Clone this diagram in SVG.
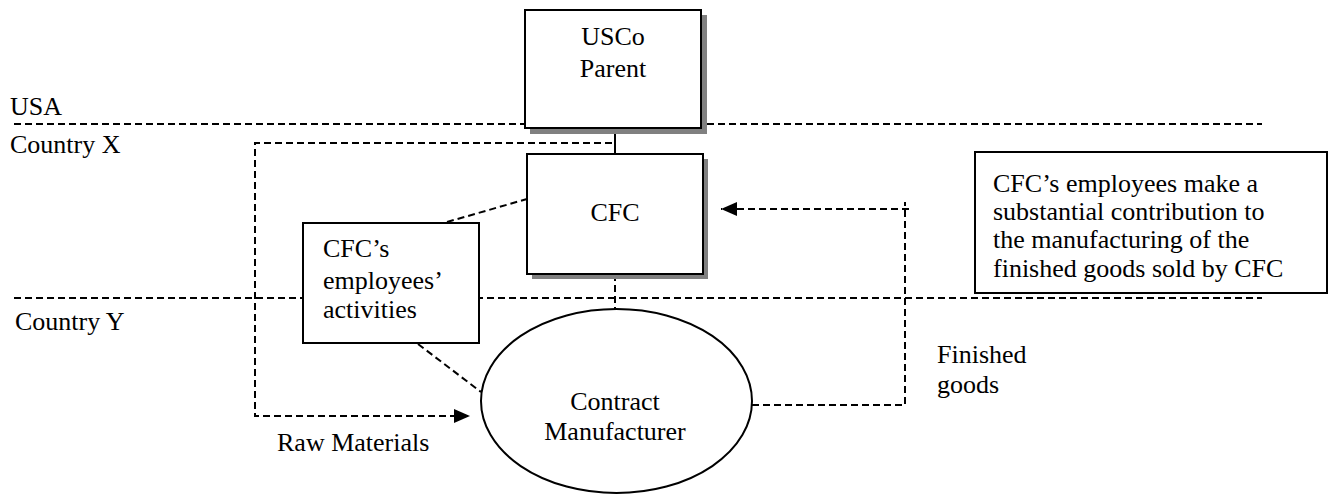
<svg xmlns="http://www.w3.org/2000/svg" width="1329" height="502" viewBox="0 0 1329 502" font-family="'Liberation Serif', 'Times New Roman', serif" font-size="26">
<style>
text{font-family:"Liberation Serif","Times New Roman",serif;font-size:26px;fill:#000}
.box{fill:#fff;stroke:#000;stroke-width:2}
.shadow{fill:#808080}
.dash{fill:none;stroke:#000;stroke-width:2;stroke-dasharray:7,4}
.solid{fill:none;stroke:#000;stroke-width:2}
</style>
<defs>
<marker id="arr" viewBox="0 0 16 14" refX="16" refY="7" markerWidth="16" markerHeight="14" markerUnits="userSpaceOnUse" orient="auto">
<path d="M0,0 L16,7 L0,14 z" fill="#000"/>
</marker>
</defs>
<rect width="1329" height="502" fill="#fff"/>
<g id="regions">
<line class="dash" x1="14" y1="124" x2="1262" y2="124"/>
<line class="dash" x1="14" y1="298" x2="1262" y2="298"/>
<text x="10" y="115">USA</text>
<text x="10" y="153">Country X</text>
<text x="15" y="330">Country Y</text>
</g>
<g id="connectors">
<line class="solid" x1="615" y1="128" x2="615" y2="154"/>
<path class="dash" d="M612,143 H255 V416 H470" marker-end="url(#arr)"/>
<line class="dash" x1="447" y1="222" x2="527" y2="199"/>
<line class="dash" x1="418" y1="344" x2="481" y2="392"/>
<line class="dash" x1="615" y1="274" x2="615" y2="309"/>
<path class="dash" d="M752,405 H905 V202"/>
<line class="dash" x1="909" y1="209" x2="721" y2="209" marker-end="url(#arr)"/>
<text x="277" y="451">Raw Materials</text>
<text x="937" y="363">Finished</text>
<text x="937" y="393">goods</text>
</g>
<g id="usco">
<rect class="shadow" x="530" y="15" width="177" height="119"/>
<rect class="box" x="525" y="10" width="176" height="118"/>
<text x="613" y="45" text-anchor="middle">USCo</text>
<text x="613" y="77" text-anchor="middle">Parent</text>
</g>
<g id="cfc">
<rect class="shadow" x="532" y="159" width="176" height="120"/>
<rect class="box" x="527" y="154" width="176" height="120"/>
<text x="615" y="221" text-anchor="middle">CFC</text>
</g>
<g id="activities">
<rect class="box" x="303" y="223" width="176" height="120"/>
<text x="323" y="257">CFC’s</text>
<text x="323" y="289">employees’</text>
<text x="323" y="318">activities</text>
</g>
<g id="manufacturer">
<ellipse class="box" cx="616.5" cy="401" rx="135.5" ry="92"/>
<text x="615" y="410" text-anchor="middle">Contract</text>
<text x="615" y="440" text-anchor="middle">Manufacturer</text>
</g>
<g id="note">
<rect class="box" x="975" y="152" width="352" height="141"/>
<text x="993" y="192">CFC’s employees make a</text>
<text x="993" y="220">substantial contribution to</text>
<text x="993" y="248">the manufacturing of the</text>
<text x="993" y="277">finished goods sold by CFC</text>
</g>
</svg>
